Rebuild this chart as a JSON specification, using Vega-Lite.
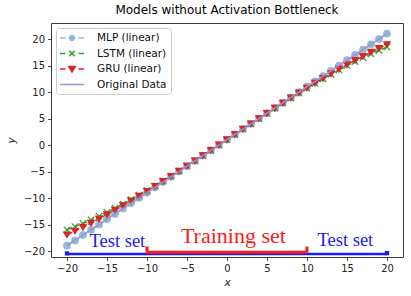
{
  "$schema": "https://vega.github.io/schema/vega-lite/v6.json",
  "width": 352,
  "height": 234,
  "autosize": {"type": "none"},
  "padding": {"left": 51, "top": 23, "right": 8, "bottom": 39},
  "background": "white",
  "title": {"text": "Models without Activation Bottleneck", "font": "DejaVu Sans", "fontSize": 12, "fontWeight": "normal", "color": "#000000", "offset": 6},
  "config": {
    "view": {"stroke": "#3a3a3a", "strokeWidth": 1},
    "axis": {"grid": false, "domain": false, "tickSize": 3.5, "tickColor": "#222222", "tickWidth": 0.8, "labelFont": "DejaVu Sans", "labelFontSize": 10, "labelColor": "#222222", "titleFont": "DejaVu Sans", "titleFontStyle": "italic", "titleFontWeight": "normal", "titleFontSize": 10.5, "titleColor": "#222222"}
  },
  "datasets": {
    "series": [
      {"x": -20, "MLP (linear)": -19, "LSTM (linear)": -16.0, "GRU (linear)": -16.95, "Original Data": -19},
      {"x": -19, "MLP (linear)": -18, "LSTM (linear)": -15.41, "GRU (linear)": -16.24, "Original Data": -18},
      {"x": -18, "MLP (linear)": -17, "LSTM (linear)": -14.79, "GRU (linear)": -15.51, "Original Data": -17},
      {"x": -17, "MLP (linear)": -16, "LSTM (linear)": -14.13, "GRU (linear)": -14.74, "Original Data": -16},
      {"x": -16, "MLP (linear)": -15, "LSTM (linear)": -13.43, "GRU (linear)": -13.95, "Original Data": -15},
      {"x": -15, "MLP (linear)": -14, "LSTM (linear)": -12.70, "GRU (linear)": -13.14, "Original Data": -14},
      {"x": -14, "MLP (linear)": -13, "LSTM (linear)": -11.93, "GRU (linear)": -12.30, "Original Data": -13},
      {"x": -13, "MLP (linear)": -12, "LSTM (linear)": -11.14, "GRU (linear)": -11.44, "Original Data": -12},
      {"x": -12, "MLP (linear)": -11, "LSTM (linear)": -10.32, "GRU (linear)": -10.56, "Original Data": -11},
      {"x": -11, "MLP (linear)": -10, "LSTM (linear)": -9.47, "GRU (linear)": -9.66, "Original Data": -10},
      {"x": -10, "MLP (linear)": -9, "LSTM (linear)": -8.59, "GRU (linear)": -8.74, "Original Data": -9},
      {"x": -9, "MLP (linear)": -8, "LSTM (linear)": -7.70, "GRU (linear)": -7.81, "Original Data": -8},
      {"x": -8, "MLP (linear)": -7, "LSTM (linear)": -6.78, "GRU (linear)": -6.87, "Original Data": -7},
      {"x": -7, "MLP (linear)": -6, "LSTM (linear)": -5.85, "GRU (linear)": -5.91, "Original Data": -6},
      {"x": -6, "MLP (linear)": -5, "LSTM (linear)": -4.90, "GRU (linear)": -4.95, "Original Data": -5},
      {"x": -5, "MLP (linear)": -4, "LSTM (linear)": -3.94, "GRU (linear)": -3.97, "Original Data": -4},
      {"x": -4, "MLP (linear)": -3, "LSTM (linear)": -2.97, "GRU (linear)": -2.98, "Original Data": -3},
      {"x": -3, "MLP (linear)": -2, "LSTM (linear)": -1.99, "GRU (linear)": -1.99, "Original Data": -2},
      {"x": -2, "MLP (linear)": -1, "LSTM (linear)": -0.99, "GRU (linear)": -1.0, "Original Data": -1},
      {"x": -1, "MLP (linear)": 0, "LSTM (linear)": 0.0, "GRU (linear)": 0.0, "Original Data": 0},
      {"x": 0, "MLP (linear)": 1, "LSTM (linear)": 1.0, "GRU (linear)": 1.0, "Original Data": 1},
      {"x": 1, "MLP (linear)": 2, "LSTM (linear)": 2.0, "GRU (linear)": 2.0, "Original Data": 2},
      {"x": 2, "MLP (linear)": 3, "LSTM (linear)": 3.0, "GRU (linear)": 3.0, "Original Data": 3},
      {"x": 3, "MLP (linear)": 4, "LSTM (linear)": 4.0, "GRU (linear)": 3.99, "Original Data": 4},
      {"x": 4, "MLP (linear)": 5, "LSTM (linear)": 4.99, "GRU (linear)": 4.98, "Original Data": 5},
      {"x": 5, "MLP (linear)": 6, "LSTM (linear)": 5.97, "GRU (linear)": 5.97, "Original Data": 6},
      {"x": 6, "MLP (linear)": 7, "LSTM (linear)": 6.95, "GRU (linear)": 6.94, "Original Data": 7},
      {"x": 7, "MLP (linear)": 8, "LSTM (linear)": 7.91, "GRU (linear)": 7.91, "Original Data": 8},
      {"x": 8, "MLP (linear)": 9, "LSTM (linear)": 8.86, "GRU (linear)": 8.87, "Original Data": 9},
      {"x": 9, "MLP (linear)": 10, "LSTM (linear)": 9.80, "GRU (linear)": 9.81, "Original Data": 10},
      {"x": 10, "MLP (linear)": 11, "LSTM (linear)": 10.72, "GRU (linear)": 10.74, "Original Data": 11},
      {"x": 11, "MLP (linear)": 12, "LSTM (linear)": 11.62, "GRU (linear)": 11.66, "Original Data": 12},
      {"x": 12, "MLP (linear)": 13, "LSTM (linear)": 12.50, "GRU (linear)": 12.56, "Original Data": 13},
      {"x": 13, "MLP (linear)": 14, "LSTM (linear)": 13.35, "GRU (linear)": 13.44, "Original Data": 14},
      {"x": 14, "MLP (linear)": 15, "LSTM (linear)": 14.18, "GRU (linear)": 14.30, "Original Data": 15},
      {"x": 15, "MLP (linear)": 16, "LSTM (linear)": 14.98, "GRU (linear)": 15.14, "Original Data": 16},
      {"x": 16, "MLP (linear)": 17, "LSTM (linear)": 15.75, "GRU (linear)": 15.95, "Original Data": 17},
      {"x": 17, "MLP (linear)": 18, "LSTM (linear)": 16.49, "GRU (linear)": 16.74, "Original Data": 18},
      {"x": 18, "MLP (linear)": 19, "LSTM (linear)": 17.20, "GRU (linear)": 17.51, "Original Data": 19},
      {"x": 19, "MLP (linear)": 20, "LSTM (linear)": 17.87, "GRU (linear)": 18.24, "Original Data": 20},
      {"x": 20, "MLP (linear)": 21, "LSTM (linear)": 18.50, "GRU (linear)": 18.95, "Original Data": 21}
    ],
    "testbar": [{"x": -20, "x2": 20, "y": -20.55}],
    "testends": [{"x": -20, "y": -20.45}, {"x": 20, "y": -20.4}],
    "trainbar": [{"x": -10, "x2": 10, "y": -20.25}],
    "traincaps": [{"x": -10, "y": -20.3, "y2": -19.15}, {"x": 10, "y": -20.3, "y2": -19.15}],
    "trainlabel": [{"x": 0.8, "y": -18.45, "label": "Training set"}],
    "testlabels": [{"x": -13.7, "y": -19.3, "label": "Test set"}, {"x": 14.8, "y": -19.1, "label": "Test set"}]
  },
  "encoding": {
    "x": {"field": "x", "type": "quantitative", "scale": {"domain": [-22, 22], "nice": false, "zero": false},
      "axis": {"values": [-20, -15, -10, -5, 0, 5, 10, 15, 20], "title": "x", "labelPadding": 2.5, "titlePadding": 4}},
    "y": {"field": "y", "type": "quantitative", "scale": {"domain": [-21.13, 23.02], "nice": false, "zero": false},
      "axis": {"values": [-20, -15, -10, -5, 0, 5, 10, 15, 20], "title": "y", "labelPadding": 3, "titlePadding": 7}}
  },
  "layer": [
    {
      "data": {"name": "series"},
      "transform": [{"fold": ["MLP (linear)", "LSTM (linear)", "GRU (linear)"], "as": ["model", "y"]}],
      "mark": {"type": "line", "strokeDash": [5.5, 2.4], "strokeWidth": 1.5},
      "encoding": {
        "color": {"field": "model", "type": "nominal",
          "scale": {"domain": ["MLP (linear)", "LSTM (linear)", "GRU (linear)", "Original Data"], "range": ["#8fbbd9", "#2ca02c", "#d62728", "#a88bd0"]},
          "legend": {"title": null, "orient": "top-left", "offset": 5, "padding": 4, "fillColor": "rgba(255,255,255,0.85)", "strokeColor": "#cccccc", "cornerRadius": 3,
            "labelFont": "DejaVu Sans", "labelFontSize": 10.5, "labelColor": "#111111", "symbolSize": 100, "symbolOffset": 6, "labelOffset": 19, "rowPadding": 3.5, "symbolStrokeWidth": 1.5,
            "encode": {"symbols": {"update": {
              "shape": {"signal": "datum.value === 'MLP (linear)' ? 'M-2.4,0L-1.3,0M1.3,0L2.4,0M-0.5,0A0.5,0.5,0,1,0,0.5,0A0.5,0.5,0,1,0,-0.5,0Z' : datum.value === 'LSTM (linear)' ? 'M-2.4,0L-1.3,0M1.3,0L2.4,0M-0.55,-0.55L0.55,0.55M-0.55,0.55L0.55,-0.55' : datum.value === 'GRU (linear)' ? 'M-2.4,0L-1.3,0M1.3,0L2.4,0M-0.65,-0.5L0.65,-0.5L0,0.6Z' : 'M-2.4,0L2.4,0'"},
              "fill": {"scale": "color", "field": "value"},
              "stroke": {"scale": "color", "field": "value"},
              "strokeWidth": {"value": 1.5},
              "strokeDash": {"value": [1, 0]},
              "opacity": {"value": 1}
            }}}
          }
        },
        "detail": {"field": "model"}
      }
    },
    {
      "data": {"name": "series"},
      "transform": [{"fold": ["MLP (linear)", "LSTM (linear)", "GRU (linear)"], "as": ["model", "y"]}],
      "mark": {"type": "point", "filled": true, "opacity": 1, "strokeWidth": 1.2, "size": 42},
      "encoding": {
        "fill": {"field": "model", "type": "nominal", "scale": {"domain": ["MLP (linear)", "LSTM (linear)", "GRU (linear)"], "range": ["#8fbbd9", "#2ca02c", "#d62728"]}, "legend": null},
        "stroke": {"field": "model", "type": "nominal", "scale": {"domain": ["MLP (linear)", "LSTM (linear)", "GRU (linear)"], "range": ["#8fbbd9", "#2ca02c", "#d62728"]}, "legend": null},
        "shape": {"field": "model", "type": "nominal", "scale": {"domain": ["MLP (linear)", "LSTM (linear)", "GRU (linear)"], "range": ["circle", "M-1,-1L1,1M-1,1L1,-1", "triangle-down"]}, "legend": null}
      }
    },
    {
      "data": {"name": "series"},
      "transform": [{"fold": ["Original Data"], "as": ["model", "y"]}],
      "mark": {"type": "line", "strokeWidth": 1.5},
      "encoding": {
        "color": {"field": "model", "type": "nominal"}
      }
    },
    {
      "data": {"name": "testbar"},
      "mark": {"type": "rule", "color": "#1a1aff", "strokeWidth": 2.5},
      "encoding": {"x2": {"field": "x2"}}
    },
    {
      "data": {"name": "testends"},
      "mark": {"type": "square", "color": "#1a1aff", "opacity": 1, "size": 18},
      "encoding": {}
    },
    {
      "data": {"name": "trainbar"},
      "mark": {"type": "rule", "color": "#ff1a1a", "strokeWidth": 3},
      "encoding": {"x2": {"field": "x2"}}
    },
    {
      "data": {"name": "traincaps"},
      "mark": {"type": "rule", "color": "#ff1a1a", "strokeWidth": 3},
      "encoding": {"y2": {"field": "y2"}}
    },
    {
      "data": {"name": "trainlabel"},
      "mark": {"type": "text", "font": "Liberation Serif", "fontSize": 22, "color": "#ff1a1a", "align": "center", "baseline": "alphabetic"},
      "encoding": {"text": {"field": "label"}}
    },
    {
      "data": {"name": "testlabels"},
      "mark": {"type": "text", "font": "Liberation Serif", "fontSize": 18.5, "color": "#1a1aff", "align": "center", "baseline": "alphabetic"},
      "encoding": {"text": {"field": "label"}}
    }
  ]
}
